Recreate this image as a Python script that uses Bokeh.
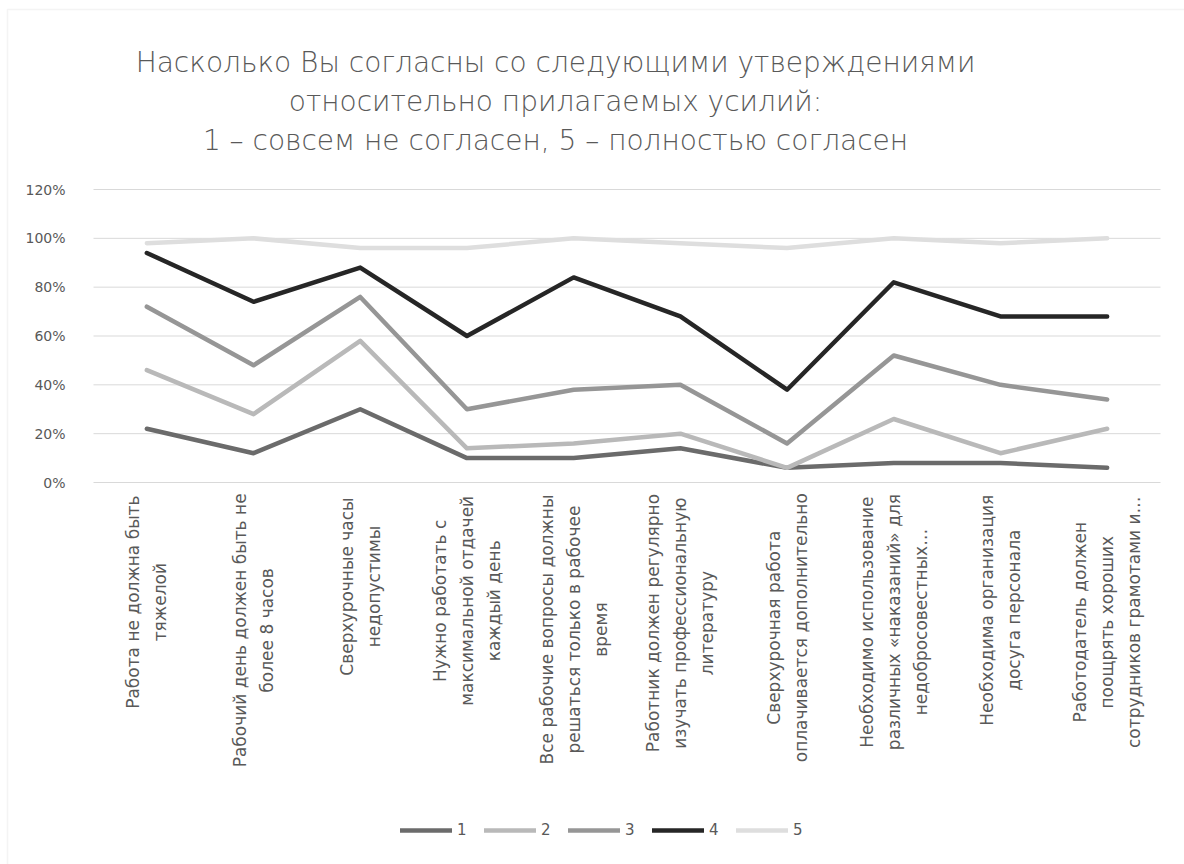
from math import pi
from bokeh.plotting import figure
from bokeh.models import (ColumnDataSource, Range1d, Label, Legend, LegendItem, BoxAnnotation)
from bokeh.core.properties import value
from bokeh.embed import file_html
from bokeh.resources import INLINE

# ---------------- data ----------------
categories = [
    "Работа не должна быть тяжелой",
    "Рабочий день должен быть не более 8 часов",
    "Сверхурочные часы недопустимы",
    "Нужно работать с максимальной отдачей каждый день",
    "Все рабочие вопросы должны решаться только в рабочее время",
    "Работник должен регулярно изучать профессиональную литературу",
    "Сверхурочная работа оплачивается дополнительно",
    "Необходимо использование различных «наказаний» для недобросовестных…",
    "Необходима организация досуга персонала",
    "Работодатель должен поощрять хороших сотрудников грамотами и…",
]
category_lines = [
    ["Работа не должна быть", "тяжелой"],
    ["Рабочий день должен быть не", "более 8 часов"],
    ["Сверхурочные часы", "недопустимы"],
    ["Нужно работать с", "максимальной отдачей", "каждый день"],
    ["Все рабочие вопросы должны", "решаться только в рабочее", "время"],
    ["Работник должен регулярно", "изучать профессиональную", "литературу"],
    ["Сверхурочная работа", "оплачивается дополнительно"],
    ["Необходимо использование", "различных «наказаний» для", "недобросовестных…"],
    ["Необходима организация", "досуга персонала"],
    ["Работодатель должен", "поощрять хороших", "сотрудников грамотами и…"],
]
series_names = ["1", "2", "3", "4", "5"]
s1 = [22, 12, 30, 10, 10, 14, 6, 8, 8, 6]
s2 = [46, 28, 58, 14, 16, 20, 6, 26, 12, 22]
s3 = [72, 48, 76, 30, 38, 40, 16, 52, 40, 34]
s4 = [94, 74, 88, 60, 84, 68, 38, 82, 68, 68]
s5 = [98, 100, 96, 96, 100, 98, 96, 100, 98, 100]
y_ticks = [0, 20, 40, 60, 80, 100, 120]
y_tick_labels = ["0%", "20%", "40%", "60%", "80%", "100%", "120%"]
title_lines = [
    "Насколько Вы согласны со следующими утверждениями",
    "относительно прилагаемых усилий:",
    "1 – совсем не согласен, 5 – полностью согласен",
]
colors = ["#6b6b6b", "#b9b9b9", "#969696", "#262626", "#dedede"]

# ---------------- layout ----------------
W, H = 1184, 864
PL, PR, PT, PB = 93, 24, 189, 382          # plot-area edges (px from canvas sides)
TXT = "#595959"
FONT = "DejaVu Sans"
TITLE_FONT = "DejaVu Sans Light, DejaVu Sans"
n_cat = len(categories)
cw = (W - PL - PR) / n_cat                 # px per category
ph = H - PT - PB                           # px of the 0..120 % band
ymax = y_ticks[-1]
upp = ymax / ph                            # value units per px

# the frame spans the whole canvas; ranges are chosen so that the value area
# lands on the plot-area rectangle
p = figure(width=W, height=H,
           x_range=Range1d(-PL / cw, n_cat + PR / cw),
           y_range=Range1d(-PB * upp, ymax + PT * upp),
           output_backend="svg", toolbar_location=None,
           min_border=0, min_border_left=0, min_border_right=0,
           min_border_top=0, min_border_bottom=0)
p.title.visible = False
p.axis.visible = False
p.grid.visible = False
p.outline_line_color = None
p.background_fill_color = "white"
p.border_fill_color = "white"

xpos = [i + 0.5 for i in range(n_cat)]

# horizontal gridlines
p.segment(x0=[0] * len(y_ticks), x1=[n_cat] * len(y_ticks), y0=y_ticks, y1=y_ticks,
          line_color="#d9d9d9", line_width=1)
# y tick labels
p.text(x=[0] * len(y_ticks), y=y_ticks, text=y_tick_labels, x_offset=-28,
       text_align="right", text_baseline="middle", text_font=value(FONT),
       text_font_size="14px", text_color=TXT)

src = ColumnDataSource(dict(x=xpos, s1=s1, s2=s2, s3=s3, s4=s4, s5=s5))
renderers = []
for key, col in zip(["s1", "s2", "s3", "s4", "s5"], colors):
    r = p.line("x", key, source=src, line_color=col, line_width=4.5,
               line_join="round", line_cap="round")
    renderers.append(r)

legend = Legend(items=[LegendItem(label=n, renderers=[r]) for n, r in zip(series_names, renderers)],
                orientation="horizontal", location=(400, 24),
                glyph_width=52, glyph_height=20, label_standoff=5, label_width=10,
                spacing=17, padding=0, margin=0, border_line_color=None,
                background_fill_alpha=0,
                label_text_font=FONT, label_text_font_size="15px",
                label_text_color=TXT)
p.add_layout(legend)

# ---------------- category labels ----------------
LFS = 17


def est_width(s, fs):
    w = 0.0
    for ch in s:
        if ch == " ":
            w += 0.318
        elif ch in "шщжмыюШЩЖМЫЮ":
            w += 0.82
        elif ch == "…":
            w += 1.0
        elif ch.isdigit():
            w += 0.636
        elif ch.isupper():
            w += 0.72
        else:
            w += 0.6
    return w * fs


label_top = H - 497          # px from the canvas bottom
line_gap = 27
for xp, lines in zip(xpos, category_lines):
    n = len(lines)
    wmax = max(est_width(l, LFS) for l in lines)
    for j, line in enumerate(lines):
        p.add_layout(Label(x=xp, y=label_top - wmax / 2, x_units="data", y_units="screen",
                           x_offset=(j - (n - 1) / 2) * line_gap, text=line, angle=pi / 2,
                           text_align="center", text_baseline="middle",
                           text_font=FONT, text_font_size=f"{LFS}px", text_color=TXT))

# ---------------- title ----------------
for yy, t in zip([H - 62, H - 101, H - 140], title_lines):
    p.add_layout(Label(x=555, y=yy, x_units="screen", y_units="screen", text=t,
                       text_align="center", text_baseline="middle",
                       text_font=TITLE_FONT, text_font_size="28px", text_color=TXT))

# ---------------- chart border ----------------
p.add_layout(BoxAnnotation(left=7, right=W + 10, top=H - 9, bottom=-10,
                           left_units="screen", right_units="screen",
                           top_units="screen", bottom_units="screen",
                           fill_alpha=0, line_color="#d9d9d9", line_width=1.5))

open("out.html", "w").write(file_html(p, INLINE))
